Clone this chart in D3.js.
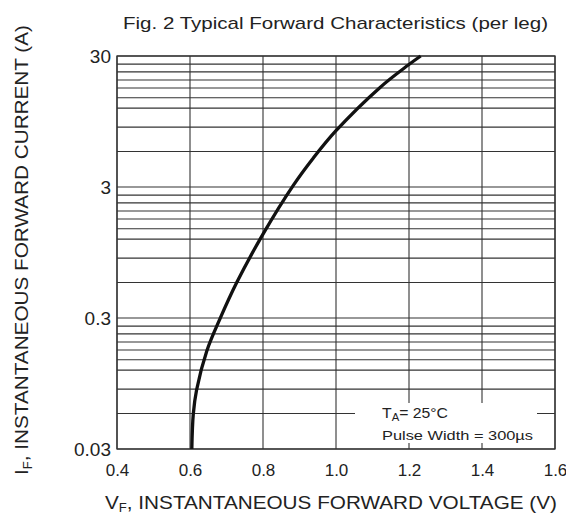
<!DOCTYPE html>
<html lang="en">
<head>
<meta charset="utf-8">
<script src="https://d3js.org/d3.v7.min.js"></script>
<style>
  body { margin: 0; background: #fff; }
  text { font-family: "Liberation Sans", Arial, sans-serif; fill: #222; }
</style>
</head>
<body>
<div class="display1"></div>
<script>
// forward voltage (V) vs forward current (A)
var vf = [0.605, 0.609, 0.618, 0.646, 0.682, 0.728, 0.802, 0.883, 0.938, 1.0, 1.12, 1.198, 1.232];
var iF = [0.03, 0.0555, 0.0846, 0.168, 0.295, 0.559, 1.34, 3.09, 5.0, 8.07, 17.2, 25.6, 30];

var xTicks = [0.4, 0.6, 0.8, 1.0, 1.2, 1.4, 1.6];
var yTicks = [0.03, 0.3, 3, 30];
// horizontal grid as drawn on the sheet (not a clean log grid)
var yGrid = [0.03, 0.056, 0.086, 0.12, 0.144, 0.171, 0.197, 0.227, 0.26,
             0.3, 0.56, 0.86, 1.2, 1.44, 1.71, 1.97, 2.27, 2.6,
             3, 5.6, 8.6, 12, 14.4, 17.1, 19.7, 22.7, 26, 30];

var width = 566, height = 516;
var pLeft = 117, pRight = 555, pTop = 56, pBottom = 449;

var svg = d3.select('.display1').append('svg').attr('width', width).attr('height', height);

var x = d3.scaleLinear().domain([0.4, 1.6]).range([pLeft, pRight]);
var y = d3.scaleLog().domain([0.03, 30]).range([pBottom, pTop]);

// grid
var grid = svg.append('g').attr('stroke', '#333').attr('stroke-width', 1.1);
grid.selectAll('.hg').data(yGrid).join('line')
  .attr('x1', pLeft).attr('x2', pRight)
  .attr('y1', function(d) { return y(d); }).attr('y2', function(d) { return y(d); });
grid.selectAll('.vg').data(xTicks).join('line')
  .attr('x1', function(d) { return x(d); }).attr('x2', function(d) { return x(d); })
  .attr('y1', pTop).attr('y2', pBottom);
svg.append('rect').attr('x', pLeft).attr('y', pTop)
  .attr('width', pRight - pLeft).attr('height', pBottom - pTop)
  .attr('fill', 'none').attr('stroke', '#333').attr('stroke-width', 1.3);

// tick labels through axes
var xAxis = svg.append('g').attr('transform', 'translate(0,' + pBottom + ')')
  .call(d3.axisBottom(x).tickValues(xTicks).tickSize(0).tickPadding(15).tickFormat(d3.format('.1f')));
xAxis.select('.domain').remove();
xAxis.selectAll('text').style('font-size', '17px').attr('fill', '#222');

var yAxis = svg.append('g').attr('transform', 'translate(' + pLeft + ',0)')
  .call(d3.axisLeft(y).tickValues(yTicks).tickSize(0).tickPadding(6).tickFormat(function(d) { return String(d); }));
yAxis.select('.domain').remove();
yAxis.selectAll('text').style('font-size', '19px').attr('fill', '#222');

// note box
var note = svg.append('g');
note.append('rect').attr('x', 355).attr('y', 403).attr('width', 182).attr('height', 40).attr('fill', '#fff');
var t1 = note.append('text').attr('x', 382).attr('y', 418).style('font-size', '14px')
  .attr('textLength', 66).attr('lengthAdjust', 'spacingAndGlyphs');
t1.append('tspan').text('T');
t1.append('tspan').attr('baseline-shift', '-25%').style('font-size', '10px').text('A');
t1.append('tspan').text('= 25\u00B0C');
note.append('text').attr('x', 382).attr('y', 440).style('font-size', '13.5px')
  .attr('textLength', 151).attr('lengthAdjust', 'spacingAndGlyphs').text('Pulse Width = 300\u00B5s');

// curve
var line = d3.line()
  .x(function(d) { return x(d[0]); })
  .y(function(d) { return y(d[1]); })
  .curve(d3.curveCatmullRom.alpha(0.5));
svg.append('path').datum(d3.zip(vf, iF))
  .attr('d', line).attr('fill', 'none').attr('stroke', '#111').attr('stroke-width', 3.3);

// titles
svg.append('text').attr('x', 123).attr('y', 29).style('font-size', '17px')
  .attr('textLength', 425).attr('lengthAdjust', 'spacingAndGlyphs')
  .text('Fig. 2 Typical Forward Characteristics (per leg)');

var xl = svg.append('text').attr('x', 105).attr('y', 509).style('font-size', '19px')
  .attr('textLength', 452).attr('lengthAdjust', 'spacingAndGlyphs');
xl.append('tspan').text('V');
xl.append('tspan').attr('baseline-shift', '-25%').style('font-size', '12px').text('F');
xl.append('tspan').text(', INSTANTANEOUS FORWARD VOLTAGE (V)');

var yl = svg.append('text').attr('transform', 'translate(28,475) rotate(-90)')
  .style('font-size', '19px').attr('textLength', 450).attr('lengthAdjust', 'spacingAndGlyphs');
yl.append('tspan').text('I');
yl.append('tspan').attr('baseline-shift', '-30%').style('font-size', '12px').text('F');
yl.append('tspan').text(', INSTANTANEOUS FORWARD CURRENT (A)');
</script>
</body>
</html>
